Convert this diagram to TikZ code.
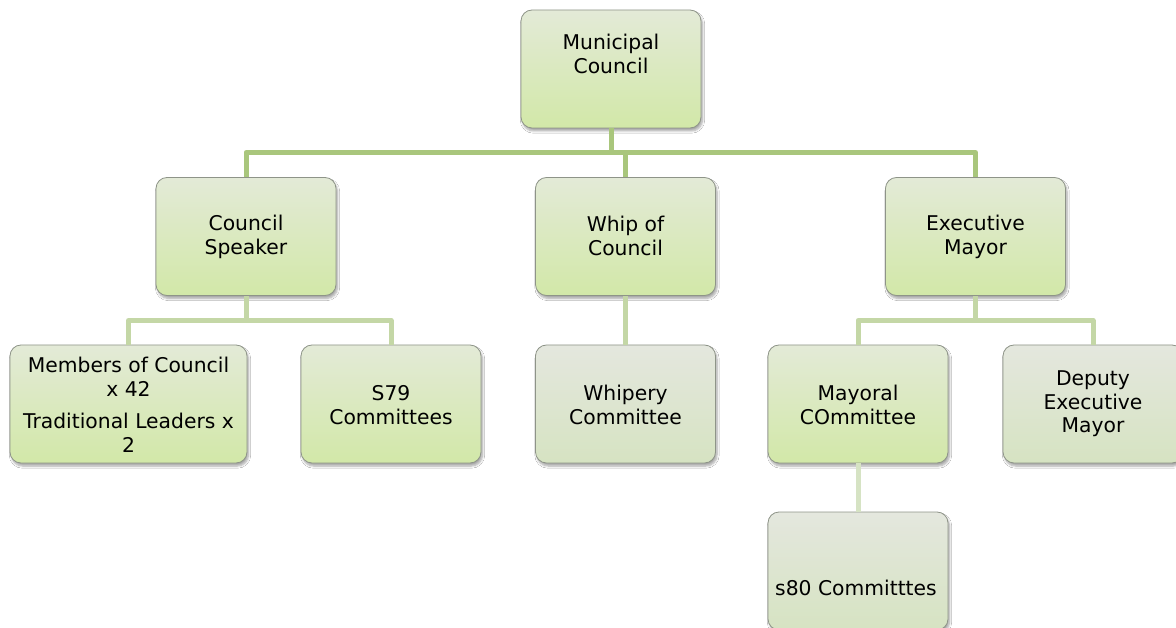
\documentclass[tikz,border=0pt]{standalone}
\usepackage{fontspec}
\setmainfont{DejaVu Sans}
\usetikzlibrary{shadows.blur}

\definecolor{linkA}{HTML}{A9C67C}
\definecolor{linkB}{HTML}{C4D7A6}
\definecolor{linkC}{HTML}{D6E3C4}
\definecolor{edge}{HTML}{8E9488}
\definecolor{greenTop}{HTML}{E3EAD7}
\definecolor{greenBot}{HTML}{D2E8A8}
\definecolor{greyTop}{HTML}{E4E7DE}
\definecolor{greyBot}{HTML}{D6E3C2}

\tikzset{
  orgbox/.style={draw=edge, line width=0.8pt, rounded corners=11pt,
    minimum width=180pt, minimum height=118pt, inner sep=0pt,
    blur shadow={shadow xshift=1.5pt, shadow yshift=-3pt, shadow blur steps=6, shadow opacity=35}},
  greenbox/.style={orgbox, top color=greenTop, bottom color=greenBot},
  greybox/.style={orgbox, top color=greyTop, bottom color=greyBot},
  label/.style={align=center, font=\fontsize{20.3}{23.5}\selectfont, inner sep=0pt},
  linkmain/.style={draw=linkA, line width=5pt, line join=round},
  linksub/.style={draw=linkB, line width=5pt, line join=round},
  linkfaint/.style={draw=linkC, line width=5pt},
}

\begin{document}
\begin{tikzpicture}[x=1pt, y=-1pt]
\clip (0,0) rectangle (1176,628);
\fill[white] (0,0) rectangle (1176,628);

% bus lines between levels
\coordinate (bus1) at (611,152.5);
\coordinate (bus2) at (0,320.5);

% boxes
\node[greenbox] (mc) at (611,69) {};
\node[greenbox] (cs) at (246,236.5) {};
\node[greenbox] (wc) at (625.5,236.5) {};
\node[greenbox] (em) at (975.5,236.5) {};
\node[greenbox, minimum width=237pt] (mem) at (128.5,404) {};
\node[greenbox] (s79) at (391,404) {};
\node[greybox] (wh) at (625.5,404) {};
\node[greenbox] (may) at (858,404) {};
\node[greybox] (dep) at (1093,404) {};
\node[greybox] (s80) at (858,571) {};

% connectors: council to its three offices
\draw[linkmain] (mc.south) -- (mc.south |- bus1);
\draw[linkmain] (cs.north) |- (em.north |- bus1) -- (em.north);
\draw[linkmain] (wc.north) -- (wc.north |- bus1);

% speaker branch
\draw[linksub] (cs.south) -- (cs.south |- bus2);
\draw[linksub] (mem.north) |- (s79.north |- bus2) -- (s79.north);

% whip branch
\draw[linksub] (wc.south) -- (wh.north);

% mayor branch
\draw[linksub] (em.south) -- (em.south |- bus2);
\draw[linksub] (may.north) |- (dep.north |- bus2) -- (dep.north);

% mayoral committee to s80
\draw[linkfaint] (may.south) -- (s80.north);

% texts
\node[label] (mc-t) at (611,54) {Municipal\\Council};
\node[label] (cs-t) at (246,237) {Council\\Speaker};
\node[label] (wc-t) at (625.5,236) {Whip of\\Council};
\node[label] (em-t) at (975.5,237) {Executive\\Mayor};
\node[label] (mem-t) at (128.5,405) {Members of Council\\x 42\\[9pt]Traditional Leaders x\\2};
\node[label] (s79-t) at (391,405) {S79\\Committees};
\node[label] (wh-t) at (625.5,405) {Whipery\\Committee};
\node[label] (may-t) at (858,405) {Mayoral\\COmmittee};
\node[label] (dep-t) at (1093,404) {Deputy\\Executive\\Mayor};
\node[label] (s80-t) at (856,588) {s80 Committtes};
\end{tikzpicture}
\end{document}
